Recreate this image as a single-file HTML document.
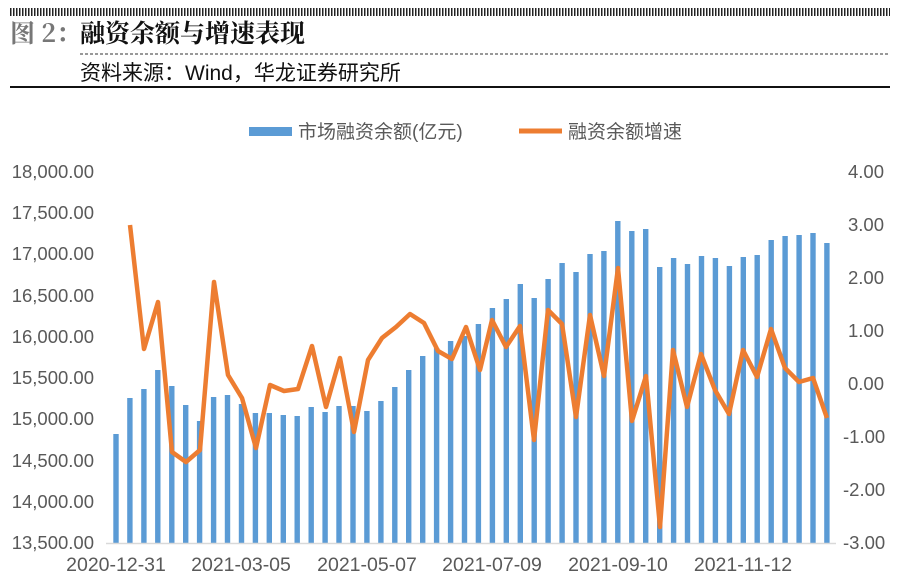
<!DOCTYPE html>
<html><head><meta charset="utf-8"><style>
body{margin:0;background:#fff;width:900px;height:580px;overflow:hidden}
</style></head><body>
<svg width="900" height="580" xmlns="http://www.w3.org/2000/svg" font-family="'Liberation Sans','Noto Sans CJK SC',sans-serif">
<line x1="10" y1="12" x2="890" y2="12" stroke="#222" stroke-width="8" stroke-dasharray="1.5,1.5"/>
<text x="10" y="42" font-size="25" font-weight="bold" fill="#777" font-family="'Noto Serif CJK SC',serif">图 2：</text>
<text x="80" y="42" font-size="25" font-weight="bold" fill="#111" font-family="'Noto Serif CJK SC',serif">融资余额与增速表现</text>
<line x1="80" y1="54" x2="890" y2="54" stroke="#333" stroke-width="1" stroke-dasharray="3,2"/>
<text x="80" y="80" font-size="21" fill="#111" font-family="'Liberation Sans','Noto Sans CJK SC',sans-serif">资料来源：Wind，华龙证券研究所</text>
<line x1="10" y1="87" x2="890" y2="87" stroke="#111" stroke-width="2"/>
<rect x="249" y="127" width="43" height="9" fill="#5b9bd5"/>
<text x="298" y="138" font-size="19" fill="#595959">市场融资余额(亿元)</text>
<line x1="519" y1="131" x2="562" y2="131" stroke="#ed7d31" stroke-width="5"/>
<text x="568" y="138" font-size="19" fill="#595959">融资余额增速</text>
<g font-size="18.5" fill="#595959" text-anchor="end">
<text x="94" y="178">18,000.00</text><text x="94" y="219">17,500.00</text><text x="94" y="260">17,000.00</text><text x="94" y="302">16,500.00</text><text x="94" y="343">16,000.00</text><text x="94" y="384">15,500.00</text><text x="94" y="425">15,000.00</text><text x="94" y="467">14,500.00</text><text x="94" y="508">14,000.00</text><text x="94" y="549">13,500.00</text>
</g>
<g font-size="18.5" fill="#595959">
<text x="848" y="178">4.00</text><text x="848" y="231">3.00</text><text x="848" y="284">2.00</text><text x="848" y="337">1.00</text><text x="848" y="390">0.00</text><text x="843" y="443">-1.00</text><text x="843" y="496">-2.00</text><text x="843" y="549">-3.00</text>
</g>
<g font-size="19.5" fill="#595959" text-anchor="middle">
<text x="116" y="571">2020-12-31</text><text x="241" y="571">2021-03-05</text><text x="367" y="571">2021-05-07</text><text x="492" y="571">2021-07-09</text><text x="618" y="571">2021-09-10</text><text x="743" y="571">2021-11-12</text>
</g>
<g fill="#5b9bd5" id="bars"></g>
<line x1="106" y1="543.5" x2="836" y2="543.5" stroke="#d9d9d9" stroke-width="1.5"/>
<polyline fill="none" stroke="#ed7d31" stroke-width="4.5" stroke-linejoin="round" points="130,225 144,349 158,302 172,452 186,462 200,450 214,282 228,375 242,398 256,448 270,385 284,391 298,389 312,346 326,407 340,358 354,432 368,360 382,338 396,327 410,314 424,323 438,351 452,359 466,327 480,370 492,320 506,347 520,326 534,440 548,310 562,324 576,417 590,315 604,376 618,268 632,421 646,376 660,527 673,350 687,407 701,354 715,390 729,414 743,350 757,377 771,329 785,368 799,382 813,378 827,418"/>
</svg>
<script>
var tops=[434,398,389,370,386,405,421,397,395,404,413,413,415,416,407,412,406,406,411,401,387,370,356,348,341,336,324,308,299,284,298,279,263,272,254,251,221,231,229,267,258,264,256,258,266,257,255,240,236,235,233,243];
var g=document.getElementById('bars'),s='';
for(var i=0;i<tops.length;i++){var x=116+13.94*i-2.7;s+='<rect x="'+x.toFixed(1)+'" y="'+tops[i]+'" width="5.4" height="'+(543-tops[i])+'"/>';}
g.innerHTML=s;
</script>
</body></html>
